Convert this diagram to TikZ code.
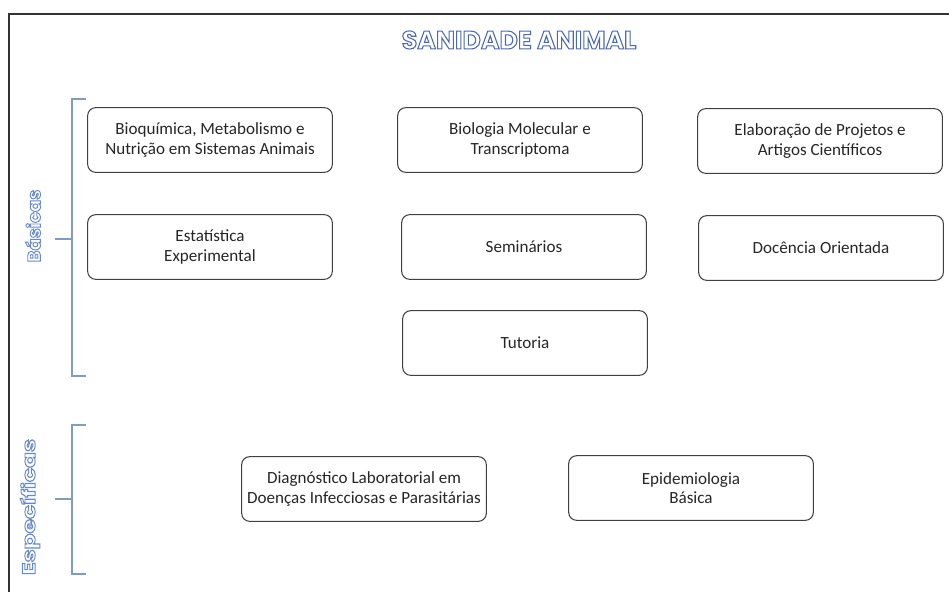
\documentclass[tikz,border=0pt]{standalone}
\usepackage{fontspec}
\setmainfont{Carlito}
\newfontfamily\titulofont{Poppins}[UprightFont=* Bold]
\usepackage{tikz}
\usetikzlibrary{positioning}

\definecolor{azultitulo}{HTML}{4A68B8}
\definecolor{azulrotulo}{HTML}{6688CC}
\definecolor{azulchave}{HTML}{7E9DC0}

% texto so com contorno
\newcommand{\contorno}[2][0.45]{\special{pdf:literal direct 1 Tr #1 w}#2\special{pdf:literal direct 0 Tr}}

\tikzset{
    modulo/.style={draw=black!75, line width=0.8pt, rounded corners=6pt,
        minimum width=183.5pt, minimum height=48.5pt, align=center,
        font=\fontsize{12.8pt}{14.5pt}\selectfont, text=black!85},
    rotulo/.style={rotate=90, text=azulrotulo, font=\titulofont\fontsize{13.5pt}{13.5pt}\selectfont},
    chave/.style={draw=azulchave, line width=1.3pt}
}

\begin{document}
\begin{tikzpicture}[x=0.75pt, y=-0.75pt]
    \useasboundingbox (0,0) rectangle (949,592);

    % moldura
    \draw[black!80, line width=1pt] (9,592) -- (9,14) -- (949,14);

    % titulo
    \node[text=azultitulo, font=\titulofont\fontsize{19pt}{19pt}\selectfont] (titulo) at (519,40) {\contorno[0.8]{SANIDADE ANIMAL}};

    % disciplinas basicas
    \foreach \nome/\x/\y/\txt in {
        bioq/210/140/{Bioquímica, Metabolismo e\\Nutrição em Sistemas Animais},
        biomol/520/140/{Biologia Molecular e\\Transcriptoma},
        proj/820/141/{Elaboração de Projetos e\\Artigos Científicos},
        estat/210/247/{Estatística\\Experimental},
        semin/524/247/{Seminários},
        docen/821/248/{Docência Orientada},
        tutor/525/343/{Tutoria}} {
        \node[modulo] (\nome) at (\x,\y) {\txt};
    }

    % disciplinas especificas
    \node[modulo] (diag) at (364,489) {Diagnóstico Laboratorial em\\Doenças Infecciosas e Parasitárias};
    \node[modulo] (epid) at (691,488) {Epidemiologia\\Básica};

    % chaves
    \coordinate (cb) at (72,239);
    \draw[chave] (86,99) -- (72,99) -- (72,376) -- (86,376);
    \draw[chave] (55,239) -- (cb);
    \coordinate (ce) at (72,499);
    \draw[chave] (86,425) -- (72,425) -- (72,574) -- (86,574);
    \draw[chave] (55,499) -- (ce);

    % rotulos laterais
    \node[rotulo] (basicas) at (33,226) {\contorno[0.7]{Básicas}};
    \node[rotulo, xscale=1.3] (especificas) at (30,507) {\contorno[0.7]{Específicas}};
\end{tikzpicture}
\end{document}
